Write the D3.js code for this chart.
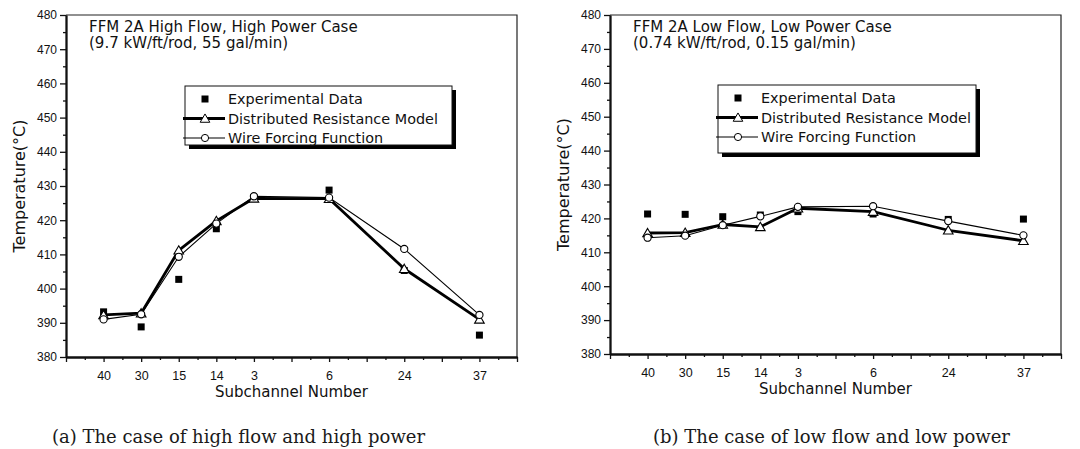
<!DOCTYPE html>
<html>
<head>
<meta charset="utf-8">
<script src="https://cdnjs.cloudflare.com/ajax/libs/d3/7.8.5/d3.min.js"></script>
<style>
  body { margin: 0; background: #fff; }
  svg text { font-family: "DejaVu Sans", "Liberation Sans", sans-serif; fill: #111; }
  svg .tick text { font-family: "Liberation Sans", Arial, sans-serif; }
  svg text.caption { font-family: "DejaVu Serif", serif; fill: #1a1a1a; }
</style>
</head>
<body>
<div class="canvas"></div>
<script>
// subchannels along the x axis and the axis slot each one sits in
const subchannels = ["40", "30", "15", "14", "3", "6", "24", "37"];
const slots = [1, 2, 3, 4, 5, 7, 9, 11];
const yTicks = [380, 390, 400, 410, 420, 430, 440, 450, 460, 470, 480];
const legendNames = ["Experimental Data", "Distributed Resistance Model", "Wire Forcing Function"];

// (a) high flow, high power
const highExp = [393.2, 388.8, 402.7, 417.5, 426.6, 428.8, 405.3, 386.4];
const highDRM = [392.3, 392.8, 411.2, 419.8, 426.4, 426.3, 405.8, 391.0];
const highWFF = [391.0, 392.5, 409.3, 419.0, 427.0, 426.6, 411.6, 392.3];

// (b) low flow, low power
const lowExp = [421.3, 421.2, 420.5, 421.0, 422.0, 421.3, 419.7, 419.8];
const lowDRM = [415.7, 415.8, 418.2, 417.5, 423.0, 422.0, 416.5, 413.4];
const lowWFF = [414.3, 414.9, 418.0, 420.6, 423.4, 423.6, 419.2, 415.0];

const panels = [
  {
    left: 66, top: 15, width: 451, height: 342,
    title: ["FFM 2A High Flow, High Power Case", "(9.7 kW/ft/rod, 55 gal/min)"],
    caption: "(a) The case of high flow and high power", captionX: 52,
    legend: { x: 185, y: 86, w: 267, h: 59 },
    exp: highExp, drm: highDRM, wff: highWFF
  },
  {
    left: 610, top: 15, width: 451, height: 339,
    title: ["FFM 2A Low Flow, Low Power Case", "(0.74 kW/ft/rod, 0.15 gal/min)"],
    caption: "(b) The case of low flow and low power", captionX: 653,
    legend: { x: 718, y: 85, w: 258, h: 68 },
    exp: lowExp, drm: lowDRM, wff: lowWFF
  }
];

const svg = d3
  .select(".canvas")
  .append("svg")
  .attr("width", 1080)
  .attr("height", 449);

const triangle = d3.symbol().type(d3.symbolTriangle).size(40);

const drawPanel = (p) => {
  const x = d3.scaleLinear().domain([0, 12]).range([p.left, p.left + p.width]);
  const y = d3.scaleLinear().domain([380, 480]).range([p.top + p.height, p.top]);
  const g = svg.append("g");

  // top and right frame
  g.append("path")
    .attr("d", `M${p.left},${p.top}H${p.left + p.width}V${p.top + p.height}`)
    .attr("fill", "none")
    .attr("stroke", "#222")
    .attr("stroke-width", 1.2);

  // x axis: labels only where a subchannel sits
  const xAxis = d3
    .axisBottom(x)
    .tickValues(d3.range(0, 13))
    .tickSize(5)
    .tickSizeOuter(0)
    .tickPadding(9)
    .tickFormat((d) => {
      const i = slots.indexOf(d);
      return i < 0 ? "" : subchannels[i];
    });
  const xMinor = d3.axisBottom(x).tickValues(d3.range(0.5, 12, 1)).tickSize(3).tickSizeOuter(0).tickFormat("");

  const xg = g.append("g").attr("transform", `translate(0,${p.top + p.height})`);
  xg.append("g").call(xMinor);
  xg.append("g").call(xAxis).attr("font-size", 12.5);

  // y axis
  const yAxis = d3.axisLeft(y).tickValues(yTicks).tickSize(6).tickSizeOuter(0).tickPadding(3);
  const yMinor = d3.axisLeft(y).tickValues(d3.range(385, 480, 10)).tickSize(3).tickSizeOuter(0).tickFormat("");

  const yg = g.append("g").attr("transform", `translate(${p.left},0)`);
  yg.append("g").call(yMinor);
  yg.append("g").call(yAxis).attr("font-size", 12);

  g.selectAll(".domain").attr("stroke", "#111").attr("stroke-width", 1.8);
  g.selectAll(".tick line").attr("stroke", "#111").attr("stroke-width", 1.3);

  // axis titles
  g.append("text")
    .attr("x", p.left + p.width / 2)
    .attr("y", p.top + p.height + 40)
    .attr("text-anchor", "middle")
    .attr("font-size", 15)
    .text("Subchannel Number");

  g.append("text")
    .attr("transform", `translate(${p.left - 41},${p.top + p.height / 2}) rotate(-90)`)
    .attr("text-anchor", "middle")
    .attr("font-size", 16)
    .text("Temperature(\u00B0C)");

  // case title in the plot
  g.selectAll(".case-title")
    .data(p.title)
    .enter()
    .append("text")
    .attr("class", "case-title")
    .attr("x", p.left + 23)
    .attr("y", (d, i) => p.top + 17 + i * 16)
    .attr("font-size", 15)
    .text((d) => d);

  // data lines
  const line = d3
    .line()
    .x((d, i) => x(slots[i]))
    .y((d) => y(d));

  g.append("path")
    .datum(p.drm)
    .attr("fill", "none")
    .attr("stroke", "#000")
    .attr("stroke-width", 2.8)
    .attr("stroke-linejoin", "round")
    .attr("d", line);

  g.append("path")
    .datum(p.wff)
    .attr("fill", "none")
    .attr("stroke", "#000")
    .attr("stroke-width", 1.1)
    .attr("d", line);

  // experimental squares
  g.selectAll(".exp")
    .data(p.exp)
    .enter()
    .append("rect")
    .attr("class", "exp")
    .attr("x", (d, i) => x(slots[i]) - 3.5)
    .attr("y", (d) => y(d) - 3.5)
    .attr("width", 7)
    .attr("height", 7)
    .attr("fill", "#000");

  // model markers
  g.selectAll(".drm")
    .data(p.drm)
    .enter()
    .append("path")
    .attr("class", "drm")
    .attr("d", triangle)
    .attr("transform", (d, i) => `translate(${x(slots[i])},${y(d) + 1})`)
    .attr("fill", "#fff")
    .attr("stroke", "#000")
    .attr("stroke-width", 1.1);

  g.selectAll(".wff")
    .data(p.wff)
    .enter()
    .append("circle")
    .attr("class", "wff")
    .attr("cx", (d, i) => x(slots[i]))
    .attr("cy", (d) => y(d))
    .attr("r", 3.6)
    .attr("fill", "#fff")
    .attr("stroke", "#000")
    .attr("stroke-width", 1.1);

  // legend box with drop shadow
  const L = p.legend;
  g.append("rect")
    .attr("x", L.x + 4)
    .attr("y", L.y + 4)
    .attr("width", L.w)
    .attr("height", L.h)
    .attr("fill", "#000");
  g.append("rect")
    .attr("x", L.x)
    .attr("y", L.y)
    .attr("width", L.w)
    .attr("height", L.h)
    .attr("fill", "#fff")
    .attr("stroke", "#111")
    .attr("stroke-width", 1);

  const rowY = (i) => L.y + 13 + i * 19.5;
  const symX = L.x + 20;

  legendNames.forEach((name, i) => {
    const row = g.append("g");
    if (i > 0) {
      row.append("line")
        .attr("x1", L.x - 2)
        .attr("x2", L.x + 40)
        .attr("y1", rowY(i))
        .attr("y2", rowY(i))
        .attr("stroke", "#000")
        .attr("stroke-width", i === 1 ? 2.8 : 1.1);
    }
    if (i === 0) {
      row.append("rect")
        .attr("x", symX - 3.5)
        .attr("y", rowY(i) - 3.5)
        .attr("width", 7)
        .attr("height", 7)
        .attr("fill", "#000");
    } else if (i === 1) {
      row.append("path")
        .attr("d", triangle)
        .attr("transform", `translate(${symX},${rowY(i) + 1})`)
        .attr("fill", "#fff")
        .attr("stroke", "#000");
    } else {
      row.append("circle")
        .attr("cx", symX)
        .attr("cy", rowY(i))
        .attr("r", 3.6)
        .attr("fill", "#fff")
        .attr("stroke", "#000");
    }
    row.append("text")
      .attr("x", L.x + 43)
      .attr("y", rowY(i) + 5)
      .attr("font-size", 14.4)
      .text(name);
  });

  // caption under the panel
  g.append("text")
    .attr("class", "caption")
    .attr("x", p.captionX)
    .attr("y", 443)
    .attr("font-size", 18)
    .text(p.caption);
};

panels.forEach(drawPanel);
</script>
</body>
</html>
